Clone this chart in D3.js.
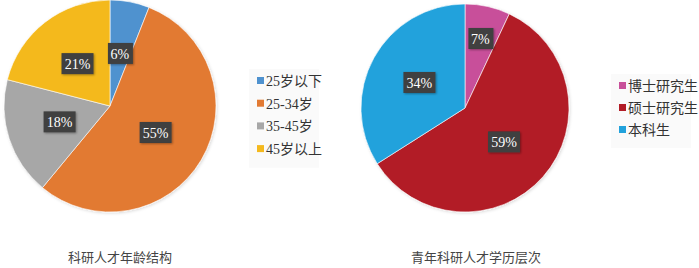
<!DOCTYPE html>
<html>
<head>
<meta charset="utf-8">
<script src="https://cdn.jsdelivr.net/npm/d3@7"></script>
<style>
  body { margin: 0; background: #fff; }
  svg { display: block; font-family: "Liberation Serif", "Noto Sans CJK SC", serif; }
</style>
</head>
<body>
<svg id="chart" width="699" height="268"></svg>
<script>
// left pie: age structure
const ageLabels = ["25岁以下", "25-34岁", "35-45岁", "45岁以上"];
const ageValues = [6, 55, 18, 21];
const ageColors = ["#4f92cf", "#e27a33", "#a7a7a7", "#f4b91d"];

// right pie: education level
const eduLabels = ["博士研究生", "硕士研究生", "本科生"];
const eduValues = [7, 59, 34];
const eduColors = ["#c8509a", "#b21c26", "#22a2dc"];

const titles = ["科研人才年龄结构", "青年科研人才学历层次"];

const svg = d3.select("#chart");

const defs = svg.append("defs");
const shadow = defs.append("filter").attr("id", "shadow")
  .attr("x", "-20%").attr("y", "-20%").attr("width", "140%").attr("height", "140%");
shadow.append("feDropShadow").attr("dx", 1).attr("dy", 1).attr("stdDeviation", 1)
  .attr("flood-color", "#000").attr("flood-opacity", 0.35);
const pieShadow = defs.append("filter").attr("id", "pieShadow")
  .attr("x", "-10%").attr("y", "-10%").attr("width", "120%").attr("height", "120%");
pieShadow.append("feDropShadow").attr("dx", 1).attr("dy", 1).attr("stdDeviation", 1.5)
  .attr("flood-color", "#000").attr("flood-opacity", 0.15);

function drawPie(cfg) {
  const g = svg.append("g")
    .attr("transform", "translate(" + cfg.cx + "," + cfg.cy + ")");

  const pie = d3.pie().sort(null).value(d => d);
  const arcs = pie(cfg.values);
  const arc = d3.arc().innerRadius(0).outerRadius(cfg.r);

  const color = d3.scaleOrdinal().domain(d3.range(cfg.values.length)).range(cfg.colors);

  g.append("g").attr("filter", "url(#pieShadow)")
    .selectAll("path")
    .data(arcs)
    .join("path")
    .attr("d", arc)
    .attr("fill", (d, i) => color(i))
    .attr("stroke", "#fff")
    .attr("stroke-width", 0.6);

  // label position: centroid of a thin ring at a fraction of the radius
  const labelPos = (d, i) => {
    const lr = cfg.r * cfg.labelR[i];
    return d3.arc().innerRadius(lr).outerRadius(lr).centroid(d);
  };

  const lab = g.selectAll(".lab")
    .data(arcs)
    .join("g")
    .attr("class", "lab")
    .attr("transform", (d, i) => "translate(" + labelPos(d, i) + ")");

  lab.append("rect")
    .attr("x", d => d.data >= 10 ? -16 : -12)
    .attr("y", -11)
    .attr("width", d => d.data >= 10 ? 32 : 25)
    .attr("height", 21)
    .attr("fill", "#3f3f3f")
    .attr("filter", "url(#shadow)");

  lab.append("text")
    .attr("text-anchor", "middle")
    .attr("dy", "0.35em")
    .attr("fill", "#fff")
    .style("font-size", "14px")
    .text(d => d.data + "%");

  // legend
  const leg = svg.append("g")
    .attr("transform", "translate(" + cfg.lx + "," + cfg.ly + ")");
  leg.append("rect")
    .attr("x", -8).attr("y", -12)
    .attr("width", cfg.lw).attr("height", cfg.labels.length * cfg.step + 8)
    .attr("fill", "#fafafa");
  const item = leg.selectAll(".item")
    .data(cfg.labels)
    .join("g")
    .attr("transform", (d, i) => "translate(0," + i * cfg.step + ")");
  item.append("rect")
    .attr("x", 0).attr("y", -4)
    .attr("width", 7).attr("height", 7)
    .attr("fill", (d, i) => color(i));
  item.append("text")
    .attr("x", 9)
    .attr("dy", "0.35em")
    .attr("fill", "#333")
    .style("font-size", "14px")
    .text(d => d);

  svg.append("text")
    .attr("x", cfg.tx).attr("y", 257)
    .attr("text-anchor", "middle")
    .attr("dy", "0.35em")
    .attr("fill", "#444")
    .style("font-size", "13px")
    .text(cfg.title);
}

drawPie({
  cx: 110, cy: 106, r: 106,
  values: ageValues, labels: ageLabels, colors: ageColors,
  labelR: [0.5, 0.5, 0.5, 0.5],
  lx: 257, ly: 81, step: 22.7, lw: 70,
  tx: 120, title: titles[0]
});

drawPie({
  cx: 465, cy: 108, r: 104,
  values: eduValues, labels: eduLabels, colors: eduColors,
  labelR: [0.68, 0.5, 0.5],
  lx: 619, ly: 86, step: 22, lw: 80,
  tx: 476, title: titles[1]
});
</script>
</body>
</html>
